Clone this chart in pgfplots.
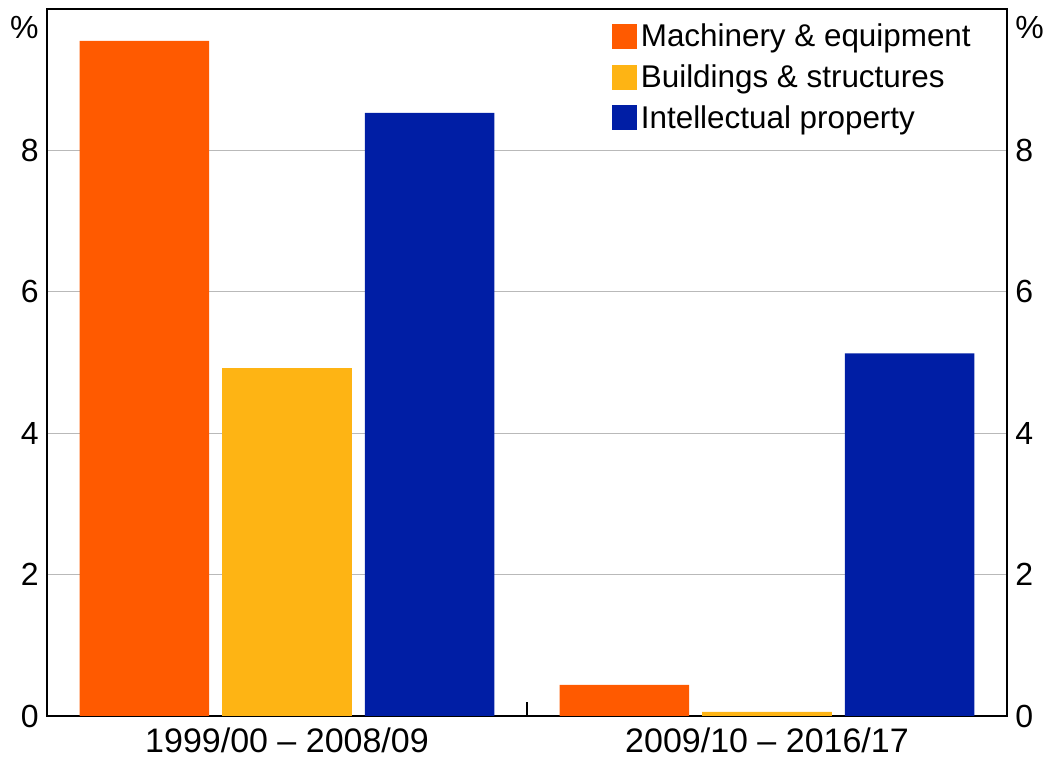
\documentclass[border=0pt]{standalone}
\usepackage{pgfplots}
\pgfplotsset{compat=1.18}
\usepackage{fontspec}
\setmainfont{Liberation Sans}
\definecolor{mach}{RGB}{255,90,0}
\definecolor{build}{RGB}{254,180,20}
\definecolor{intel}{RGB}{0,30,165}
\begin{document}
\begin{tikzpicture}
\pgfplotsset{
  common/.style={
    at={(0,0)}, anchor=south west,
    scale only axis, width=480pt, height=353.5pt,
    xmin=-0.5, xmax=1.5, ymin=0, ymax=10,
    ytick={0,2,4,6,8},
    /pgf/number format/assume math mode=true,
    major tick length=0pt,
    yticklabel style={font=\fontsize{16}{18}\selectfont, inner sep=0pt},
  }
}
\begin{axis}[common,
  clip mode=individual,
  axis line style={black, line width=0.8pt},
  ymajorgrids, grid style={gray!55, line width=0.6pt},
  yticklabel style={xshift=-4pt},
  xtick={0,1}, xticklabels={1999/00 -- 2008/09, 2009/10 -- 2016/17},
  xticklabel style={font=\fontsize{17}{19}\selectfont, inner sep=0pt, text depth=0pt, yshift=-5.5pt},
  extra x ticks={0.5}, extra x tick labels={},
  extra x tick style={major tick length=7pt, tick align=inside, tick style={black, line width=0.8pt}},
  xtick pos=bottom, ytick pos=left,
  legend style={at={(0.588,0.985)}, anchor=north west, draw=none, fill=none,
    font=\fontsize{15.7}{18}\selectfont, inner sep=0pt, row sep=3.5pt,
    cells={anchor=west}},
  legend image code/.code={\fill[#1] (0pt,-6pt) rectangle (12.5pt,6.5pt);},
  ]
\addplot[ybar, fill=mach, draw=none, bar width=0.27, bar shift=-0.297] coordinates {(0,9.55) (1,0.44)};
\addlegendentry{Machinery \& equipment}
\addplot[ybar, fill=build, draw=none, bar width=0.27, bar shift=0] coordinates {(0,4.92) (1,0.06)};
\addlegendentry{Buildings \& structures}
\addplot[ybar, fill=intel, draw=none, bar width=0.27, bar shift=0.297] coordinates {(0,8.53) (1,5.13)};
\addlegendentry{Intellectual property}
\node[anchor=north east, inner sep=0pt, font=\fontsize{16}{18}\selectfont] at (rel axis cs:0,1) [xshift=-4pt, yshift=-3.5pt] {\%};
\node[anchor=north west, inner sep=0pt, font=\fontsize{16}{18}\selectfont] at (rel axis cs:1,1) [xshift=4pt, yshift=-3.5pt] {\%};
\end{axis}
\begin{axis}[common,
  axis line style={draw=none},
  xtick=\empty,
  yticklabel pos=right,
  yticklabel style={xshift=4pt},
  ]
\addplot[draw=none] coordinates {(0,0)};
\end{axis}
\pgfresetboundingbox
\path[use as bounding box] (-23.5pt,-22pt) rectangle (498.5pt,358pt);
\end{tikzpicture}
\end{document}
